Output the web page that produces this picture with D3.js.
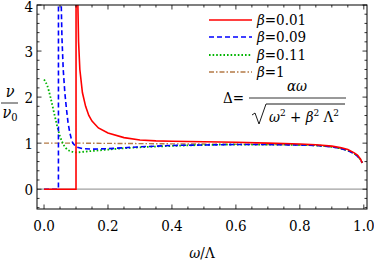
<!DOCTYPE html>
<html>
<head>
<meta charset="utf-8">
<script src="https://cdn.jsdelivr.net/npm/d3@7"></script>
<style>
  body { margin: 0; background: #fff; }
  svg { display: block; }
</style>
</head>
<body>
<script>
// curves: [omega/Lambda, nu/nu0]
const betaLabels = ["0.01", "0.09", "0.11", "1"];

const red001 = [[0,0],[0.1,0],[0.1002,6],[0.105,4.3],[0.108,3.2],[0.112,2.6],[0.12,2.1],[0.13,1.8],
  [0.14,1.6],[0.15,1.48],[0.17,1.33],[0.2,1.22],[0.25,1.12],[0.3,1.07],[0.35,1.05],[0.4,1.04],
  [0.5,1.03],[0.6,1.02],[0.7,1.0],[0.8,0.98],[0.85,0.965],[0.9,0.935],[0.93,0.9],[0.95,0.86],
  [0.97,0.79],[0.98,0.74],[0.99,0.65],[0.995,0.57]];
const blue009 = [[0,0],[0.045,0],[0.0452,6],[0.053,4.3],[0.056,3.3],[0.06,2.6],[0.065,2.1],[0.07,1.75],
  [0.075,1.45],[0.08,1.25],[0.085,1.1],[0.09,1.0],[0.1,0.92],[0.12,0.88],[0.15,0.87],[0.2,0.88],
  [0.25,0.9],[0.3,0.92],[0.4,0.95],[0.5,0.96],[0.6,0.97],[0.7,0.97],[0.8,0.96],[0.85,0.95],
  [0.9,0.92],[0.93,0.88],[0.95,0.84],[0.97,0.77],[0.98,0.72],[0.99,0.64],[0.995,0.57]];
const green011 = [[0,2.38],[0.01,2.25],[0.02,2.0],[0.03,1.7],[0.04,1.4],[0.05,1.15],[0.06,0.98],
  [0.07,0.88],[0.08,0.83],[0.09,0.81],[0.1,0.8],[0.12,0.81],[0.15,0.83],[0.2,0.86],[0.25,0.89],
  [0.3,0.91],[0.4,0.94],[0.5,0.96],[0.6,0.97],[0.7,0.97],[0.8,0.96],[0.85,0.95],[0.9,0.92],
  [0.93,0.88],[0.95,0.84],[0.97,0.77],[0.98,0.72],[0.99,0.64],[0.995,0.57]];
const brown1 = [[0,1.0],[0.1,1.0],[0.2,0.995],[0.3,0.99],[0.4,0.985],[0.5,0.98],[0.6,0.975],
  [0.7,0.97],[0.8,0.96],[0.85,0.95],[0.9,0.92],[0.93,0.88],[0.95,0.84],[0.97,0.77],[0.98,0.72],
  [0.99,0.64],[0.995,0.57]];

const xTicks = [0, 0.2, 0.4, 0.6, 0.8, 1.0];
const yTicks = [0, 1, 2, 3, 4];

const series = [
  { data: red001,   color: "#ff0000", dash: null,      width: 1.6 },
  { data: blue009,  color: "#0000ff", dash: "5,3",     width: 1.6 },
  { data: green011, color: "#00b400", dash: "1.6,2",   width: 1.8 },
  { data: brown1,   color: "#b47a45", dash: "5,2,1.5,2", width: 1.4 }
];

const W = 374, H = 264;
const FONT = "'DejaVu Serif Condensed', 'DejaVu Serif', serif";

const x = d3.scaleLinear().domain([-0.022, 1.01]).range([37, 367]);
const y = d3.scaleLinear().domain([-0.43, 4.0]).range([209, 5]);

const svg = d3.select("body").append("svg")
  .attr("width", W).attr("height", H)
  .style("font-family", FONT)
  .style("font-stretch", "condensed");

svg.append("defs").append("clipPath").attr("id", "clip")
  .append("rect")
  .attr("x", x.range()[0]).attr("y", y.range()[1])
  .attr("width", x.range()[1] - x.range()[0])
  .attr("height", y.range()[0] - y.range()[1]);

// zero line
svg.append("line")
  .attr("x1", x.range()[0]).attr("x2", x.range()[1])
  .attr("y1", y(0)).attr("y2", y(0))
  .attr("stroke", "#a0a0a0").attr("stroke-width", 1.2);

// curves
const line = d3.line().x(d => x(d[0])).y(d => y(d[1])).curve(d3.curveMonotoneX);
const lineLin = d3.line().x(d => x(d[0])).y(d => y(d[1]));
const plot = svg.append("g").attr("clip-path", "url(#clip)");
series.slice().reverse().forEach(s => {
  plot.append("path")
    .datum(s.data)
    .attr("fill", "none")
    .attr("stroke", s.color)
    .attr("stroke-width", s.width)
    .attr("stroke-dasharray", s.dash)
    .attr("d", s.data[0][1] === 0 ? lineLin : line);
});

// frame with ticks on all sides
const frame = svg.append("g").attr("stroke", "#000");
const x0 = x.range()[0], x1 = x.range()[1], yb = y.range()[0], yt = y.range()[1];
frame.append("rect").attr("x", x0).attr("y", yt).attr("width", x1 - x0).attr("height", yb - yt)
  .attr("fill", "none").attr("stroke-width", 1);

const xMinor = d3.range(0, 1.0001, 0.05);
const yMinor = d3.range(-0.4, 4.0001, 0.2);
xMinor.forEach(v => {
  const major = xTicks.some(t => Math.abs(t - v) < 1e-6);
  const len = major ? 4.5 : 2.5;
  frame.append("line").attr("x1", x(v)).attr("x2", x(v)).attr("y1", yb).attr("y2", yb - len).attr("stroke-width", 0.8);
  frame.append("line").attr("x1", x(v)).attr("x2", x(v)).attr("y1", yt).attr("y2", yt + len).attr("stroke-width", 0.8);
});
yMinor.forEach(v => {
  const major = yTicks.some(t => Math.abs(t - v) < 1e-6);
  const len = major ? 4.5 : 2.5;
  frame.append("line").attr("y1", y(v)).attr("y2", y(v)).attr("x1", x0).attr("x2", x0 + len).attr("stroke-width", 0.8);
  frame.append("line").attr("y1", y(v)).attr("y2", y(v)).attr("x1", x1).attr("x2", x1 - len).attr("stroke-width", 0.8);
});

// tick labels
svg.append("g").selectAll("text").data(xTicks).enter().append("text")
  .attr("x", d => x(d)).attr("y", yb + 22)
  .attr("text-anchor", "middle").attr("font-size", 15)
  .text(d => d.toFixed(1));
svg.append("g").selectAll("text").data(yTicks).enter().append("text")
  .attr("x", x0 - 4).attr("y", d => Math.max(y(d) + 5.5, 12))
  .attr("text-anchor", "end").attr("font-size", 15)
  .text(d => d);

// axis titles
const xt = svg.append("text").attr("x", (x0 + x1) / 2).attr("y", 258)
  .attr("text-anchor", "middle").attr("font-size", 15);
xt.append("tspan").attr("font-style", "italic").text("ω");
xt.append("tspan").text("/Λ");

svg.append("text").attr("x", 10).attr("y", 97).attr("text-anchor", "middle")
  .attr("font-size", 16).attr("font-style", "italic").text("ν");
svg.append("line").attr("x1", 1).attr("x2", 18).attr("y1", 103).attr("y2", 103)
  .attr("stroke", "#000").attr("stroke-width", 0.8);
const nu0 = svg.append("text").attr("x", 10).attr("y", 118).attr("text-anchor", "middle").attr("font-size", 16);
nu0.append("tspan").attr("font-style", "italic").text("ν");
nu0.append("tspan").attr("font-size", 11).attr("dy", 3).text("0");

// legend
const rowY = [20, 37, 55, 72];
const leg = svg.append("g");
series.forEach((s, i) => {
  leg.append("line")
    .attr("x1", 209).attr("x2", 252).attr("y1", rowY[i]).attr("y2", rowY[i])
    .attr("stroke", s.color).attr("stroke-width", s.width)
    .attr("stroke-dasharray", s.dash);
  const t = leg.append("text").attr("x", 257).attr("y", rowY[i] + 5).attr("font-size", 15);
  t.append("tspan").attr("font-style", "italic").text("β");
  t.append("tspan").text("=" + betaLabels[i]);
});

// formula
const f = svg.append("g").attr("font-size", 15);
const dl = f.append("text").attr("x", 223).attr("y", 103);
dl.append("tspan").text("Δ=");
f.append("line").attr("x1", 249).attr("x2", 346).attr("y1", 98).attr("y2", 98)
  .attr("stroke", "#000").attr("stroke-width", 0.8);
f.append("text").attr("x", 297).attr("y", 91).attr("text-anchor", "middle")
  .attr("font-style", "italic").text("αω");
f.append("path")
  .attr("d", "M252,115 L255,113 L259,124 L266,104 L345,104")
  .attr("fill", "none").attr("stroke", "#000").attr("stroke-width", 0.9);
const den = f.append("text").attr("x", 269).attr("y", 122);
den.append("tspan").attr("font-style", "italic").text("ω");
den.append("tspan").attr("font-size", 10).attr("dy", -6).text("2");
den.append("tspan").attr("dy", 6).text(" + ");
den.append("tspan").attr("font-style", "italic").text("β");
den.append("tspan").attr("font-size", 10).attr("dy", -6).text("2");
den.append("tspan").attr("dy", 6).text(" Λ");
den.append("tspan").attr("font-size", 10).attr("dy", -6).text("2");
</script>
</body>
</html>
